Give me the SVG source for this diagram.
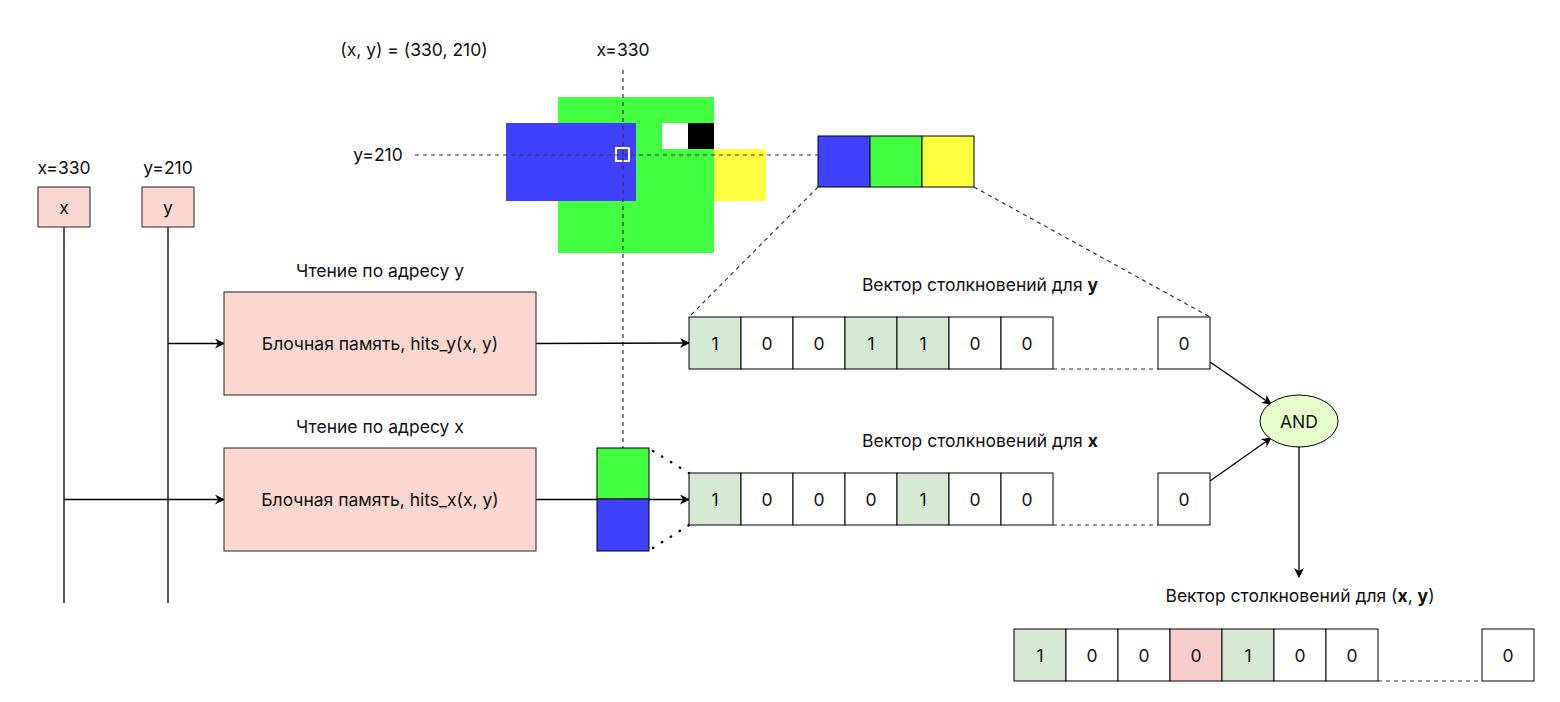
<svg xmlns="http://www.w3.org/2000/svg" width="1560" height="702" viewBox="0 0 1560 702">
<defs>
<marker id="arr" viewBox="0 0 10 10" refX="9" refY="5" markerWidth="10" markerHeight="10" markerUnits="userSpaceOnUse" orient="auto">
<path d="M0,0 L10,5 L0,10 L3,5 Z" fill="#000"/>
</marker>
<style>
text{font-family:Inter,"Noto Sans","DejaVu Sans",sans-serif;font-size:17.5px;fill:#111;text-anchor:middle;dominant-baseline:central}
.b{font-weight:bold}
.cell{stroke:#000;stroke-width:1}
.w{fill:#fff}
.g{fill:#d5e8d4}
.r{fill:#f8cecc}
.mem{fill:#fad7d0;stroke:#222;stroke-width:1}
.ln{stroke:#000;stroke-width:1.3;fill:none}
.dash{stroke:#333;stroke-width:1.2;stroke-dasharray:4 4;fill:none}
.dot{stroke:#000;stroke-width:2.4;stroke-dasharray:0.5 10;stroke-linecap:round;fill:none}
</style>
</defs>
<rect width="1560" height="702" fill="#fff"/>

<g id="scene">
<rect x="558" y="97" width="156" height="156" fill="#42ff42"/>
<rect x="506" y="123" width="130" height="78" fill="#4040ff"/>
<rect x="662" y="123" width="26" height="26" fill="#fff"/>
<rect x="688" y="123" width="26" height="26" fill="#000"/>
<rect x="714" y="149" width="52" height="52" fill="#ffff40"/>
<rect x="616" y="148" width="13" height="13" fill="none" stroke="#fff" stroke-width="2"/>
</g>

<g id="connectors">
<line class="dash" x1="623" y1="70" x2="623" y2="448"/>
<line class="dash" x1="415" y1="155" x2="818" y2="155"/>
<line class="dash" x1="818" y1="187" x2="689" y2="317"/>
<line class="dash" x1="974" y1="187" x2="1210" y2="317"/>
<line class="ln" x1="64" y1="227" x2="64" y2="603"/>
<line class="ln" x1="168" y1="227" x2="168" y2="603"/>
<line class="ln" x1="168" y1="343.5" x2="224" y2="343.5" marker-end="url(#arr)"/>
<line class="ln" x1="64" y1="499.5" x2="224" y2="499.5" marker-end="url(#arr)"/>
<line class="ln" x1="536" y1="343.5" x2="689" y2="343" marker-end="url(#arr)"/>
<line class="ln" x1="536" y1="499.5" x2="689" y2="499.5" marker-end="url(#arr)"/>
<line class="dot" x1="653" y1="451" x2="689" y2="473"/>
<line class="dot" x1="653" y1="548" x2="689" y2="525"/>
<line class="dash" x1="1053" y1="369" x2="1158" y2="369"/>
<line class="dash" x1="1053" y1="525" x2="1158" y2="525"/>
<line class="dash" x1="1378" y1="681" x2="1482" y2="681"/>
<line class="ln" x1="1210" y1="362" x2="1271" y2="404" marker-end="url(#arr)"/>
<line class="ln" x1="1210" y1="481" x2="1271" y2="438" marker-end="url(#arr)"/>
<line class="ln" x1="1299" y1="447" x2="1299" y2="577" marker-end="url(#arr)"/>
</g>

<g id="labels">
<text x="414" y="49">(x, y) = (330, 210)</text>
<text x="623" y="49">x=330</text>
<text x="378" y="154">y=210</text>
<text x="64" y="167">x=330</text>
<text x="168" y="167">y=210</text>
<text x="380" y="270">Чтение по адресу y</text>
<text x="380" y="426">Чтение по адресу x</text>
<text x="980" y="284">Вектор столкновений для <tspan class="b">y</tspan></text>
<text x="980" y="440">Вектор столкновений для <tspan class="b">x</tspan></text>
<text x="1300" y="595">Вектор столкновений для (<tspan class="b">x</tspan>, <tspan class="b">y</tspan>)</text>
</g>

<g id="node-x"><rect x="38" y="187" width="52" height="40" class="mem"/><text x="64" y="207">x</text></g>
<g id="node-y"><rect x="142" y="187" width="52" height="40" class="mem"/><text x="168" y="207">y</text></g>

<g id="mem-y"><rect x="224" y="292" width="312" height="103" class="mem"/><text x="380" y="343">Блочная память, hits_y(x, y)</text></g>
<g id="mem-x"><rect x="224" y="448" width="312" height="103" class="mem"/><text x="380" y="499">Блочная память, hits_x(x, y)</text></g>

<g id="strip">
<rect x="818" y="136" width="52" height="51" fill="#4040ff" class="cell"/>
<rect x="870" y="136" width="52" height="51" fill="#42ff42" class="cell"/>
<rect x="922" y="136" width="52" height="51" fill="#ffff40" class="cell"/>
</g>

<g id="pixel-pair">
<rect x="597" y="448" width="52" height="51" fill="#42ff42" class="cell"/>
<rect x="597" y="499" width="52" height="52" fill="#4040ff" class="cell"/>
</g>

<g id="vec-y">
<rect x="689" y="317" width="52" height="52" class="cell g"/><text x="715" y="343">1</text>
<rect x="741" y="317" width="52" height="52" class="cell w"/><text x="767" y="343">0</text>
<rect x="793" y="317" width="52" height="52" class="cell w"/><text x="819" y="343">0</text>
<rect x="845" y="317" width="52" height="52" class="cell g"/><text x="871" y="343">1</text>
<rect x="897" y="317" width="52" height="52" class="cell g"/><text x="923" y="343">1</text>
<rect x="949" y="317" width="52" height="52" class="cell w"/><text x="975" y="343">0</text>
<rect x="1001" y="317" width="52" height="52" class="cell w"/><text x="1027" y="343">0</text>
<rect x="1158" y="317" width="52" height="52" class="cell w"/><text x="1184" y="343">0</text>
</g>

<g id="vec-x">
<rect x="689" y="473" width="52" height="52" class="cell g"/><text x="715" y="499">1</text>
<rect x="741" y="473" width="52" height="52" class="cell w"/><text x="767" y="499">0</text>
<rect x="793" y="473" width="52" height="52" class="cell w"/><text x="819" y="499">0</text>
<rect x="845" y="473" width="52" height="52" class="cell w"/><text x="871" y="499">0</text>
<rect x="897" y="473" width="52" height="52" class="cell g"/><text x="923" y="499">1</text>
<rect x="949" y="473" width="52" height="52" class="cell w"/><text x="975" y="499">0</text>
<rect x="1001" y="473" width="52" height="52" class="cell w"/><text x="1027" y="499">0</text>
<rect x="1158" y="473" width="52" height="52" class="cell w"/><text x="1184" y="499">0</text>
</g>

<g id="and"><ellipse cx="1299" cy="421" rx="39" ry="26" fill="#e6ffcc" stroke="#000" stroke-width="1"/><text x="1299" y="421">AND</text></g>

<g id="vec-xy">
<rect x="1014" y="629" width="52" height="52" class="cell g"/><text x="1040" y="655">1</text>
<rect x="1066" y="629" width="52" height="52" class="cell w"/><text x="1092" y="655">0</text>
<rect x="1118" y="629" width="52" height="52" class="cell w"/><text x="1144" y="655">0</text>
<rect x="1170" y="629" width="52" height="52" class="cell r"/><text x="1196" y="655">0</text>
<rect x="1222" y="629" width="52" height="52" class="cell g"/><text x="1248" y="655">1</text>
<rect x="1274" y="629" width="52" height="52" class="cell w"/><text x="1300" y="655">0</text>
<rect x="1326" y="629" width="52" height="52" class="cell w"/><text x="1352" y="655">0</text>
<rect x="1482" y="629" width="52" height="52" class="cell w"/><text x="1508" y="655">0</text>
</g>
</svg>
